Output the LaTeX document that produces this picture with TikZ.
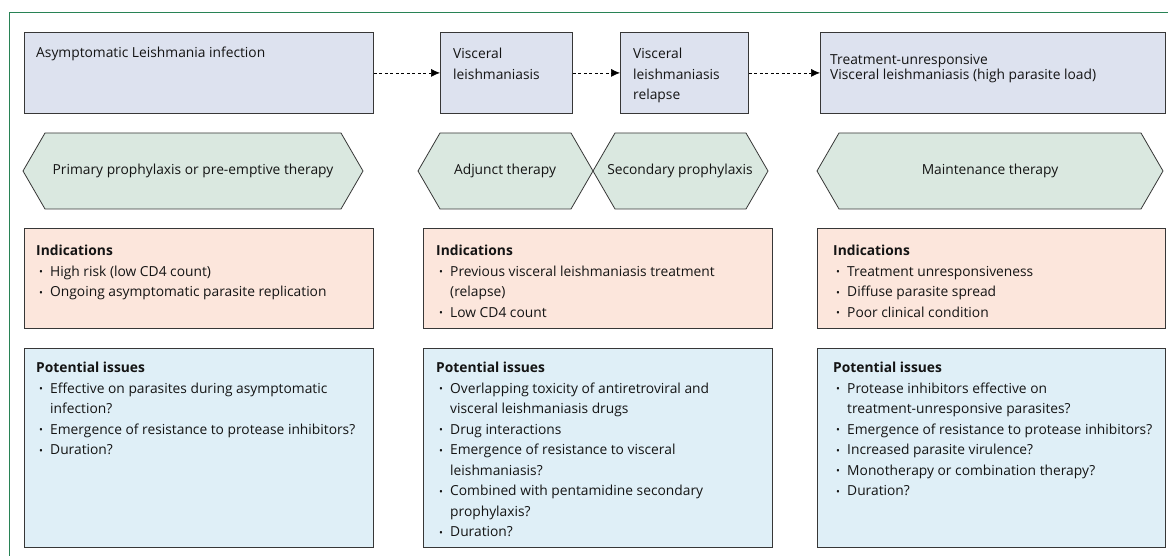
\documentclass[tikz,border=0pt]{standalone}
\usepackage{fontspec}
\setmainfont{Open Sans}
\usepackage{tikz}
\usetikzlibrary{arrows.meta,positioning}

\definecolor{framegreen}{RGB}{40,130,85}
\definecolor{stagefill}{RGB}{221,226,239}
\definecolor{therapyfill}{RGB}{218,232,224}
\definecolor{indicfill}{RGB}{252,230,220}
\definecolor{issuefill}{RGB}{223,239,247}
\definecolor{edgegray}{RGB}{55,55,55}

\newcommand{\blt}{\hspace*{3pt}\makebox[11pt][l]{\raisebox{0.5pt}{\scalebox{0.75}{\textbullet}}}}
\newcommand{\cnt}{\hspace*{14pt}}

\begin{document}
\begin{tikzpicture}[x=1pt,y=-1pt,
  every node/.style={font=\fontsize{13.8}{20.5}\selectfont, text=black!92},
  stagebox/.style={draw=edgegray, fill=stagefill, line width=0.8pt, anchor=north west, minimum height=81pt, inner sep=0pt},
  indicbox/.style={draw=edgegray, fill=indicfill, line width=0.8pt, anchor=north west, minimum width=349pt, minimum height=100pt, inner sep=0pt},
  issuebox/.style={draw=edgegray, fill=issuefill, line width=0.8pt, anchor=north west, minimum width=349pt, minimum height=199pt, inner sep=0pt},
  hexpath/.style={draw=edgegray, fill=therapyfill, line width=0.8pt},
  txt/.style={anchor=north west, align=left, inner sep=0pt},
  flow/.style={draw=black, line width=0.7pt, dash pattern=on 3pt off 2.5pt, -{Latex[length=9pt,width=8pt]}}]
\useasboundingbox (0,0) rectangle (1168,556);

% frame
\draw[framegreen, line width=1pt] (9,556) -- (9,13) -- (1168,13);

% stages
\node[stagebox, minimum width=349pt] (asym) at (24,32) {};
\node[stagebox, minimum width=132pt] (visc) at (440,32) {};
\node[stagebox, minimum width=128pt] (relapse) at (620,32) {};
\node[stagebox, minimum width=345pt] (unresp) at (820,32) {};

\node[txt] (asymtext) at (36,47) {Asymptomatic Leishmania infection};
\node[txt] (visctext) at (453,48) {Visceral\\leishmaniasis};
\node[txt] (relapsetext) at (633,48) {Visceral\\leishmaniasis\\relapse};
\node[txt] (unresptext) at (830,54) {Treatment-unresponsive\\[-5.5pt]Visceral leishmaniasis (high parasite load)};

\draw[flow] (asym) -- (visc);
\draw[flow] (visc) -- (relapse);
\draw[flow] (relapse) -- (unresp);

% therapies
\path[hexpath] (23,171) -- (45,133) -- (341,133) -- (363,171) -- (341,209) -- (45,209) -- cycle;
\path[hexpath] (418,171) -- (440,133) -- (571,133) -- (593,171) -- (571,209) -- (440,209) -- cycle;
\path[hexpath] (593,171) -- (615,133) -- (746,133) -- (768,171) -- (746,209) -- (615,209) -- cycle;
\path[hexpath] (817,171) -- (839,133) -- (1141,133) -- (1163,171) -- (1141,209) -- (839,209) -- cycle;

\node (primary) at (193,171) {Primary prophylaxis or pre-emptive therapy};
\node (adjunct) at (505,171) {Adjunct therapy};
\node (secondary) at (680,171) {Secondary prophylaxis};
\node (maintain) at (990,171) {Maintenance therapy};

% indications
\node[indicbox] (indA) at (24,228) {};
\node[indicbox] (indB) at (423,228) {};
\node[indicbox, minimum width=348pt] (indC) at (817,228) {};

\node[txt] (indAtext) at (36,245) {\textbf{Indications}\\
\blt High risk (low CD4 count)\\
\blt Ongoing asymptomatic parasite replication};
\node[txt] (indBtext) at (436,245) {\textbf{Indications}\\
\blt Previous visceral leishmaniasis treatment\\
\cnt (relapse)\\
\blt Low CD4 count};
\node[txt] (indCtext) at (833,245) {\textbf{Indications}\\
\blt Treatment unresponsiveness\\
\blt Diffuse parasite spread\\
\blt Poor clinical condition};

% potential issues
\node[issuebox] (issA) at (24,348) {};
\node[issuebox] (issB) at (423,348) {};
\node[issuebox, minimum width=348pt] (issC) at (817,348) {};

\node[txt] (issAtext) at (36,362) {\textbf{Potential issues}\\
\blt Effective on parasites during asymptomatic\\
\cnt infection?\\
\blt Emergence of resistance to protease inhibitors?\\
\blt Duration?};
\node[txt] (issBtext) at (436,362) {\textbf{Potential issues}\\
\blt Overlapping toxicity of antiretroviral and\\
\cnt visceral leishmaniasis drugs\\
\blt Drug interactions\\
\blt Emergence of resistance to visceral\\
\cnt leishmaniasis?\\
\blt Combined with pentamidine secondary\\
\cnt prophylaxis?\\
\blt Duration?};
\node[txt] (issCtext) at (833,362) {\textbf{Potential issues}\\
\blt Protease inhibitors effective on\\
\cnt treatment-unresponsive parasites?\\
\blt Emergence of resistance to protease inhibitors?\\
\blt Increased parasite virulence?\\
\blt Monotherapy or combination therapy?\\
\blt Duration?};
\end{tikzpicture}
\end{document}
